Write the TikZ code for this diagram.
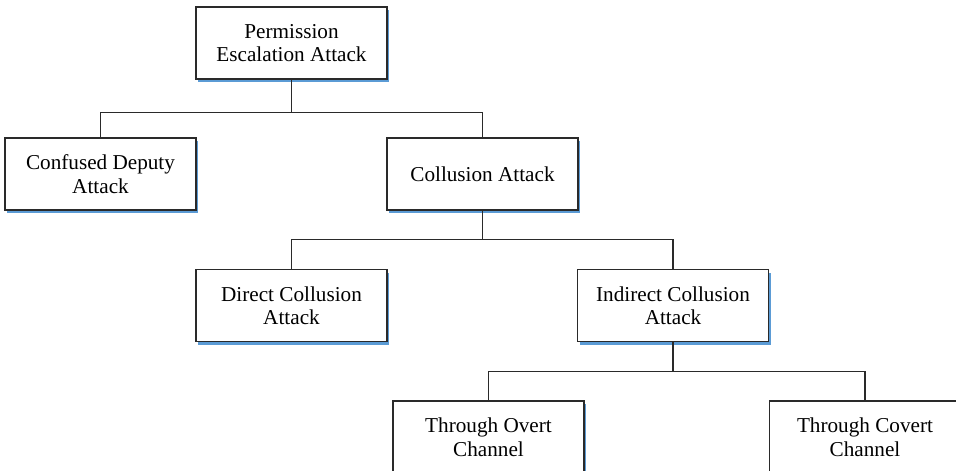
\documentclass[tikz,border=0pt]{standalone}
\usepackage{fontspec}
\setmainfont{Liberation Serif}
\usetikzlibrary{shadows}
\definecolor{shadowblue}{HTML}{5B9BD5}
\definecolor{boxline}{HTML}{2A2A2A}
\begin{document}
\begin{tikzpicture}[x=1pt,y=-1pt,
  box/.style={draw=boxline, line width=1.3pt, fill=white, minimum width=191pt, minimum height=72pt,
    align=center, inner sep=0pt, font=\fontsize{21.2}{23.5}\selectfont,
    drop shadow={shadow xshift=2pt, shadow yshift=-3pt, fill=shadowblue, opacity=1}},
  conn/.style={draw=boxline, line width=1.1pt}]
\useasboundingbox (0,0) rectangle (956,471);
\fill[white] (0,0) rectangle (956,471);
\node[box] (root) at (291.5,43) {Permission\\Escalation Attack};
\node[box] (conf) at (100.5,174) {Confused Deputy\\Attack};
\node[box] (coll) at (482.5,174) {Collusion Attack};
\node[box] (dir) at (291.5,305.5) {Direct Collusion\\Attack};
\node[box] (ind) at (673,305.5) {Indirect Collusion\\Attack};
\node[box] (ovt) at (488.5,437) {Through Overt\\Channel};
\node[box] (cov) at (865,437) {Through Covert\\Channel};
\draw[conn] (root.south) -- ++(0,33) coordinate (b1);
\draw[conn] (conf.north) |- (b1) -| (coll.north);
\draw[conn] (coll.south) -- ++(0,29) coordinate (b2);
\draw[conn] (dir.north) |- (b2) -| (ind.north);
\draw[conn] (ind.south) -- ++(0,29) coordinate (b3);
\draw[conn] (ovt.north) |- (b3) -| (cov.north);
\end{tikzpicture}
\end{document}
